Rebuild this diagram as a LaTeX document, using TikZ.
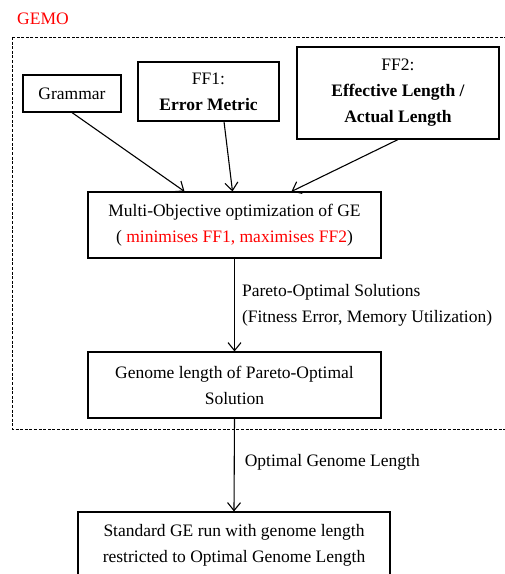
\documentclass[tikz,border=0pt]{standalone}
\usepackage{fontspec}
\setmainfont{Liberation Serif}
\usepackage{tikz}
\usepackage{xcolor}
\usetikzlibrary{positioning, arrows.meta}
\definecolor{gemored}{RGB}{255, 0, 0}
\tikzset{
    gebox/.style={draw, line width=1.1pt, align=center, inner sep=0pt, font=\fontsize{17.5}{26}\selectfont},
    flowarrow/.style={-{Straight Barb[length=8pt, width=13pt]}, line width=1.1pt},
    flownote/.style={anchor=west, align=left, inner sep=0pt, font=\fontsize{17.5}{26}\selectfont},
    gemoframe/.style={draw, dash pattern=on 3pt off 1.6pt, line width=0.8pt}
}

\begin{document}
\begin{tikzpicture}[x=1pt, y=-1pt]
                    \useasboundingbox (0,0) rectangle (505,574);
                    \clip (0,0) rectangle (505,574);
                    % GEMO frame
                    \node[anchor=west, inner sep=0pt, text=gemored, font=\fontsize{17.5}{20}\selectfont] (gemo) at (17,19) {GEMO};
                    \draw[gemoframe] (12,37) rectangle (530,429);
                    % inputs
                    \node[gebox, minimum width=98pt, minimum height=37pt] (grammar) at (72,93.5) {Grammar};
                    \node[gebox, minimum width=141pt, minimum height=59pt] (ffone) at (208.5,91.5) {FF1:\\\textbf{Error Metric}};
                    \node[gebox, minimum width=202pt, minimum height=92pt] (fftwo) at (398,93) {FF2:\\\textbf{Effective Length /}\\\textbf{Actual Length}};
                    % main flow
                    \node[gebox, minimum width=293pt, minimum height=66pt] (moo) at (234.5,225) {Multi-Objective optimization of GE\\( \textcolor{gemored}{minimises FF1, maximises FF2})};
                    \node[gebox, minimum width=293pt, minimum height=66pt] (genome) at (234.5,385) {Genome length of Pareto-Optimal\\Solution};
                    \node[gebox, minimum width=312pt, minimum height=66pt] (standard) at (234,545) {Standard GE run with genome length\\restricted to Optimal Genome Length};
                    \draw[flowarrow] (grammar.south) -- ([xshift=-50pt]moo.north);
                    \draw[flowarrow] ([xshift=15.5pt]ffone.south) -- ([xshift=-2pt]moo.north);
                    \draw[flowarrow] (fftwo.south) -- ([xshift=57pt]moo.north);
                    \draw[flowarrow] (moo.south) -- (genome.north) node[flownote, pos=0.5, xshift=7pt] (pareto) {Pareto-Optimal Solutions\\(Fitness Error, Memory Utilization)};
                    \draw[flowarrow] (genome.south) -- (standard.north) node[flownote, pos=0.47, xshift=10pt] (optimal) {Optimal Genome Length};
                \end{tikzpicture}
\end{document}
